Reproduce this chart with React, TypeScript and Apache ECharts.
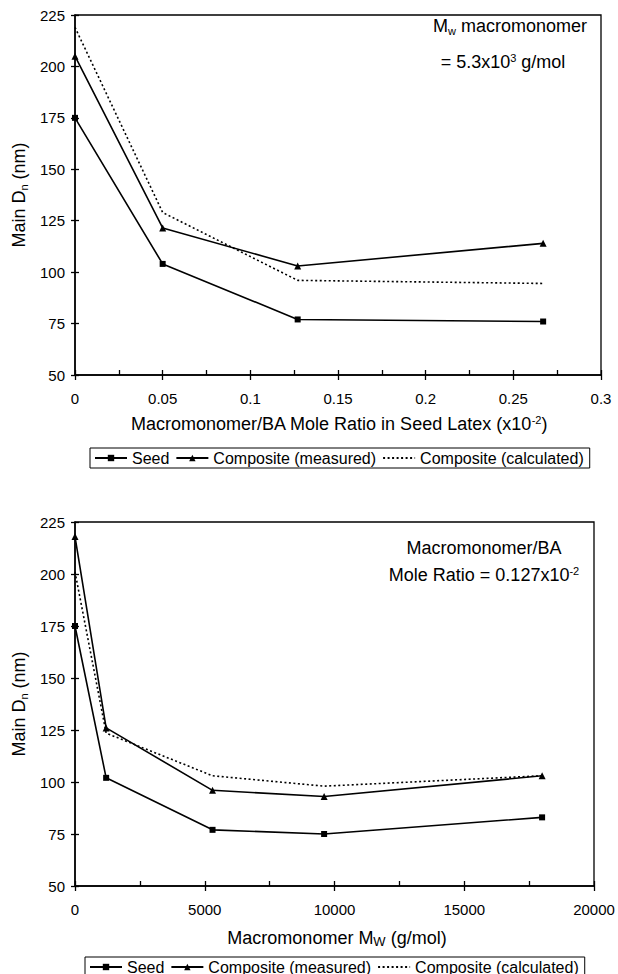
import React, { useEffect, useRef } from "react";
import * as echarts from "echarts";

// ---- Data ----
// Top panel: x = Macromonomer/BA mole ratio in seed latex (x10^-2)
const ratioX = [0, 0.05, 0.127, 0.267];
const seedTop = [175, 104, 77, 76];
const compMeasuredTop = [205, 121.5, 103, 114];
const compCalculatedTop = [219, 129, 96, 94.5];

// Bottom panel: x = Macromonomer Mw (g/mol)
const mwX = [0, 1200, 5300, 9600, 18000];
const seedBottom = [175, 102, 77, 75, 83];
const compMeasuredBottom = [218, 126, 96, 93, 103];
const compCalculatedBottom = [201, 123.5, 103, 98, 103];

const seriesNames = ["Seed", "Composite (measured)", "Composite (calculated)"];
const topYTicks = { min: 50, max: 225, interval: 25 };
const topXTicks = { min: 0, max: 0.3, interval: 0.05 };
const bottomXTicks = { min: 0, max: 20000, interval: 5000 };

const FONT = '"Liberation Sans", Arial, Helvetica, sans-serif';
const BLACK = "#000";

function zip(xs: number[], ys: number[]) {
  return xs.map((x, i) => [x, ys[i]]);
}

export default function App() {
  const ref = useRef<HTMLDivElement>(null);

  useEffect(() => {
    if (!ref.current) return;
    const chart = echarts.init(ref.current, undefined, { renderer: "svg" });

    const grids = [
      { left: 75, top: 15, width: 526, height: 360 },
      { left: 75, top: 522, width: 519, height: 364 },
    ];

    const grid: any[] = [];
    grids.forEach((g) => {
      grid.push({ ...g, show: true, borderColor: BLACK, borderWidth: 1.3, backgroundColor: "transparent" });
      grid.push({ ...g, show: false });
    });

    const fmt = (v: number) => String(Math.round(v * 1000) / 1000);

    const mainXAxis = (gridIndex: number, t: any) => ({
      type: "value",
      gridIndex,
      min: t.min,
      max: t.max,
      interval: t.interval,
      axisLine: { show: true, onZero: false, lineStyle: { color: BLACK, width: 1.5 } },
      axisTick: { show: true, inside: false, length: 5, lineStyle: { color: BLACK, width: 1.3 } },
      axisLabel: { show: true, color: BLACK, fontSize: 15, fontFamily: FONT, margin: 16, formatter: fmt },
      splitLine: { show: false },
    });
    const innerXAxis = (gridIndex: number, t: any) => ({
      type: "value",
      gridIndex,
      min: t.min,
      max: t.max,
      interval: t.interval,
      axisLine: { show: false },
      axisTick: { show: true, inside: true, length: 5, lineStyle: { color: BLACK, width: 1.3 } },
      minorTick: { show: true, splitNumber: 2, length: 5, lineStyle: { color: BLACK, width: 1.3 } },
      axisLabel: { show: false },
      splitLine: { show: false },
    });
    const mainYAxis = (gridIndex: number) => ({
      type: "value",
      gridIndex,
      min: topYTicks.min,
      max: topYTicks.max,
      interval: topYTicks.interval,
      axisLine: { show: true, onZero: false, lineStyle: { color: BLACK, width: 1.5 } },
      axisTick: { show: true, inside: false, length: 4, lineStyle: { color: BLACK, width: 1.3 } },
      axisLabel: { show: true, color: BLACK, fontSize: 15, fontFamily: FONT, margin: 10, formatter: fmt },
      splitLine: { show: false },
    });
    const innerYAxis = (gridIndex: number) => ({
      type: "value",
      gridIndex,
      min: topYTicks.min,
      max: topYTicks.max,
      interval: topYTicks.interval,
      axisLine: { show: false },
      axisTick: { show: true, inside: true, length: 4, lineStyle: { color: BLACK, width: 1.3 } },
      axisLabel: { show: false },
      splitLine: { show: false },
    });

    const lineSeries = (
      name: string,
      xs: number[],
      ys: number[],
      axisIndex: number,
      kind: "seed" | "meas" | "calc"
    ) => ({
      type: "line",
      name,
      xAxisIndex: axisIndex,
      yAxisIndex: axisIndex,
      data: zip(xs, ys),
      clip: false,
      symbol: kind === "seed" ? "rect" : kind === "meas" ? "triangle" : "none",
      symbolSize: kind === "seed" ? 6 : 7,
      showSymbol: kind !== "calc",
      itemStyle: { color: BLACK },
      lineStyle: {
        color: BLACK,
        width: 1.6,
        type: kind === "calc" ? [2, 2.5] : "solid",
      },
      emphasis: { disabled: true },
      silent: true,
    });

    const series = [
      lineSeries(seriesNames[0], ratioX, seedTop, 0, "seed"),
      lineSeries(seriesNames[1], ratioX, compMeasuredTop, 0, "meas"),
      lineSeries(seriesNames[2], ratioX, compCalculatedTop, 0, "calc"),
      lineSeries(seriesNames[0], mwX, seedBottom, 2, "seed"),
      lineSeries(seriesNames[1], mwX, compMeasuredBottom, 2, "meas"),
      lineSeries(seriesNames[2], mwX, compCalculatedBottom, 2, "calc"),
    ];

    const legend = (left: number, top: number) => ({
      left,
      top,
      orient: "horizontal",
      itemGap: 6,
      itemWidth: 32,
      itemHeight: 8,
      borderColor: BLACK,
      borderWidth: 1,
      borderRadius: 0,
      padding: [2, 6, 2, 4],
      selectedMode: false,
      textStyle: { fontSize: 16, color: BLACK, fontFamily: FONT },
      data: [
        { name: seriesNames[0] },
        { name: seriesNames[1] },
        { name: seriesNames[2], itemStyle: { opacity: 0 } },
      ],
    });

    const rich = {
      sup: { fontSize: 11, fontFamily: FONT, fill: BLACK, verticalAlign: "top", lineHeight: 12 },
      sub: { fontSize: 11, fontFamily: FONT, fill: BLACK, verticalAlign: "bottom", lineHeight: 12 },
      subW: { fontSize: 13, fontFamily: FONT, fill: BLACK, verticalAlign: "bottom", lineHeight: 14 },
    };

    const txt = (text: string, x: number, y: number, size = 18, rotation = 0) => ({
      type: "text",
      x,
      y,
      rotation,
      silent: true,
      style: {
        text,
        fontSize: size,
        fontFamily: FONT,
        fill: BLACK,
        align: "center",
        verticalAlign: "middle",
        lineHeight: size + 2,
        rich,
      },
    });

    const option: any = {
      animation: false,
      backgroundColor: "#fff",
      textStyle: { fontFamily: FONT },
      grid,
      xAxis: [
        mainXAxis(0, topXTicks),
        innerXAxis(1, topXTicks),
        mainXAxis(2, bottomXTicks),
        innerXAxis(3, bottomXTicks),
      ],
      yAxis: [mainYAxis(0), innerYAxis(1), mainYAxis(2), innerYAxis(3)],
      legend: [legend(90, 448), legend(85, 957)],
      series,
      graphic: [
        txt("Main D{sub|n} (nm)", 19, 195, 18, Math.PI / 2),
        txt("Main D{sub|n} (nm)", 19, 704, 18, Math.PI / 2),
        txt("Macromonomer/BA Mole Ratio in Seed Latex (x10{sup|-2})", 339, 424, 18),
        txt("Macromonomer M{subW|W} (g/mol)", 337, 938, 18),
        txt("M{sub|w} macromonomer", 510, 26, 18),
        txt("= 5.3x10{sup|3} g/mol", 503, 62, 18),
        txt("Macromonomer/BA", 484, 548, 18),
        txt("Mole Ratio = 0.127x10{sup|-2}", 484, 575, 18),
      ],
    };

    chart.setOption(option);
    return () => chart.dispose();
  }, []);

  return (
    <div
      ref={ref}
      style={{ position: "absolute", left: 0, top: 0, width: 618, height: 974, background: "#fff" }}
    />
  );
}
